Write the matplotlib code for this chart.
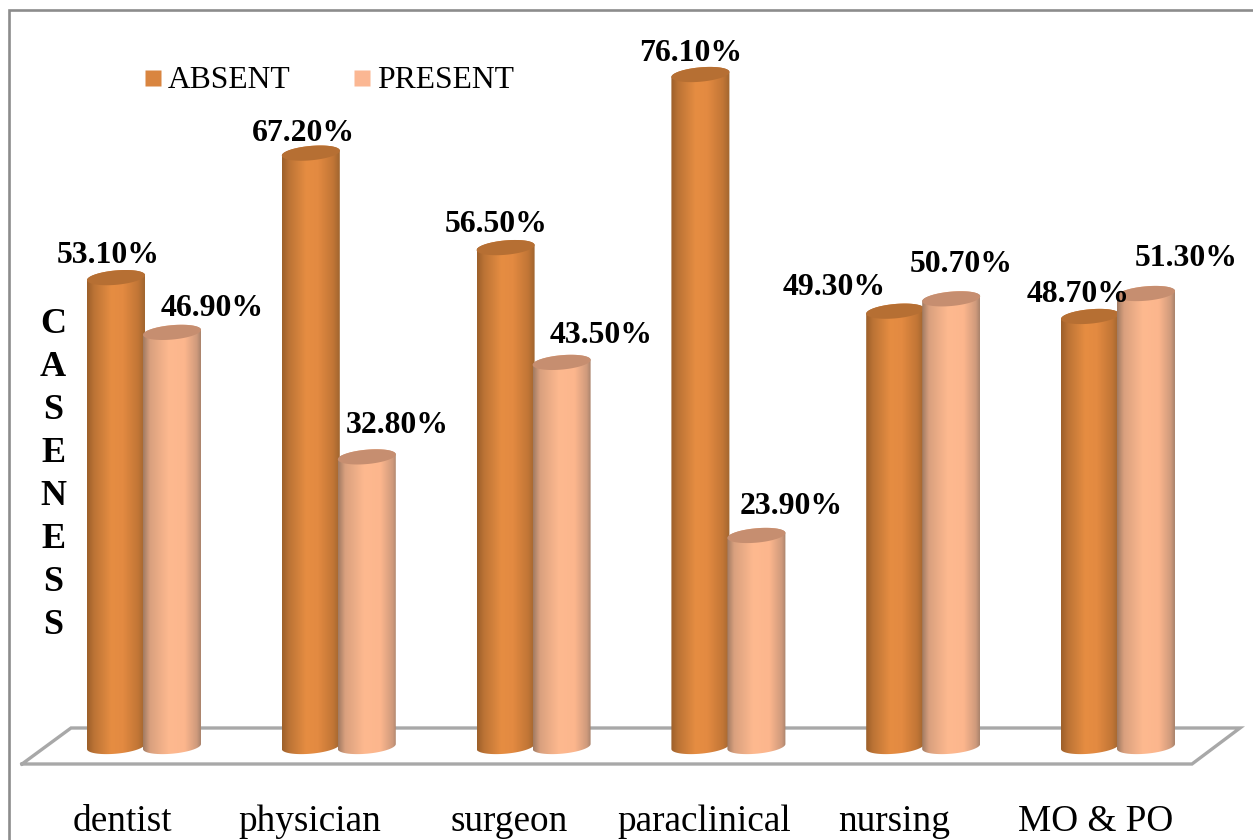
import numpy as np
import matplotlib
matplotlib.use("Agg")
import matplotlib.pyplot as plt
from matplotlib.colors import LinearSegmentedColormap
from matplotlib.patches import PathPatch, Polygon
from matplotlib.path import Path

categories = ["dentist", "physician", "surgeon", "paraclinical", "nursing", "MO & PO"]
absent = [53.1, 67.2, 56.5, 76.1, 49.3, 48.7]
present = [46.9, 32.8, 43.5, 23.9, 50.7, 51.3]
series_names = ["ABSENT", "PRESENT"]
axis_letters = list("CASENESS")

# value label offsets from the top of each cylinder, in pixels
absent_offsets = [(-8, 22), (-7, 20), (-9, 23), (-10, 21), (-61, 24), (-12, 22)]
present_offsets = [(40, 24), (30, 31), (40, 27), (35, 29), (10, 34), (40, 35)]
category_centers_px = [122, 310, 509, 704, 894, 1096]

W, H = 1253, 840
BASE_Y = 746.5
PX_PER_PCT = 8.83
GROUP_X0 = 144.0
GROUP_DX = 194.8
SERIF = "Liberation Serif"

fig = plt.figure(figsize=(W / 100, H / 100), dpi=100, facecolor="white")
ax = fig.add_axes([0, 0, 1, 1])
XLIM = (-GROUP_X0 / GROUP_DX, (W - GROUP_X0) / GROUP_DX)
YLIM = ((BASE_Y - H) / PX_PER_PCT, BASE_Y / PX_PER_PCT)
ax.set_xlim(*XLIM)
ax.set_ylim(*YLIM)
ax.axis("off")


def px(x, y):
    """Convert image-style pixel coordinates to data coordinates."""
    return (x - GROUP_X0) / GROUP_DX, (BASE_Y - y) / PX_PER_PCT


# outer frame: left and top edges stay inside the canvas, the rest run off it
frame = np.array([px(8.5, 860), px(8.5, 9.5), px(1270, 9.5)])
ax.plot(frame[:, 0], frame[:, 1], color="#8c8c8c", lw=1.9, solid_joinstyle="miter", zorder=1)

# floor of the 3-D plot area
floor = np.array([px(22, 764), px(71, 728), px(1240, 728), px(1192, 764), px(22, 764)])
ax.plot(floor[:, 0], floor[:, 1], color="#a8a8a8", lw=2.4, solid_joinstyle="miter", zorder=2)

HALF_W = 29 / GROUP_DX
RY = 7.2 / PX_PER_PCT
TILT = 2.5 / PX_PER_PCT

absent_cmap = LinearSegmentedColormap.from_list(
    "absent", [(0, "#9c5f2a"), (0.12, "#bb7335"), (0.42, "#e68d42"),
               (0.62, "#e38a41"), (0.88, "#c27636"), (1, "#a0652f")])
present_cmap = LinearSegmentedColormap.from_list(
    "present", [(0, "#a07a62"), (0.12, "#d9a07e"), (0.45, "#feb98f"),
                (0.72, "#fcb68d"), (0.93, "#cf9a7c"), (1, "#a9836c")])


def rim(xc, level, start, stop):
    """Points on a slightly tilted elliptical rim at the given height."""
    t = np.linspace(start, stop, 60)
    x = xc + HALF_W * np.cos(t)
    y = level + RY * np.sin(t) + TILT * np.cos(t)
    return np.column_stack([x, y])


def cylinder(xc, value, cmap, top_color, z):
    x0, x1 = xc - HALF_W, xc + HALF_W
    # body outline: left edge up, across the top, right edge down, along the lower rim
    lower = rim(xc, 0, 0, -np.pi)
    upper = rim(xc, value, np.pi, 0)
    verts = np.vstack([upper, lower, upper[:1]])
    codes = [Path.MOVETO] + [Path.LINETO] * (len(verts) - 2) + [Path.CLOSEPOLY]
    body = PathPatch(Path(verts, codes), facecolor="none", edgecolor="none", zorder=z)
    ax.add_patch(body)
    grad = np.linspace(0, 1, 256).reshape(1, -1)
    im = ax.imshow(grad, cmap=cmap, extent=(x0, x1, -2 * RY, value + 2 * RY),
                   aspect="auto", zorder=z, interpolation="bilinear")
    im.set_clip_path(body)
    ax.add_patch(Polygon(rim(xc, value, 0, 2 * np.pi), closed=True, facecolor=top_color,
                         edgecolor="none", zorder=z + 0.1))


OFFSET = 28 / GROUP_DX
for i, (a, p) in enumerate(zip(absent, present)):
    cylinder(i - OFFSET, a, absent_cmap, "#b66f33", 3 + i * 0.01)
    cylinder(i + OFFSET, p, present_cmap, "#c68e70", 4 + i * 0.01)

# imshow resets the view, so restore it
ax.set_xlim(*XLIM)
ax.set_ylim(*YLIM)

label_style = dict(fontfamily=SERIF, fontweight="bold", fontsize=22.9,
                   ha="center", va="center", color="black", zorder=6,
                   textcoords="offset pixels")
for i, (a, p) in enumerate(zip(absent, present)):
    ax.annotate(f"{a:.2f}%", (i - OFFSET, a), xytext=absent_offsets[i], **label_style)
    ax.annotate(f"{p:.2f}%", (i + OFFSET, p), xytext=present_offsets[i], **label_style)

# category labels
for cx, c in zip(category_centers_px, categories):
    tx, ty = px(cx, 822)
    ax.text(tx, ty, c, fontfamily=SERIF, fontsize=26.8, ha="center", va="center",
            color="black", zorder=6)

# stacked vertical axis title
for k, letter in enumerate(axis_letters):
    lx, ly = px(53, 324.5 + k * 43)
    ax.text(lx, ly, letter, fontfamily=SERIF, fontweight="bold", fontsize=26,
            ha="center", va="center", color="black", zorder=6)

# legend
for name, color, sx, tx in zip(series_names, ["#d98540", "#fbb793"], [153, 362], [168, 377]):
    lx, ly = px(sx, 78)
    ax.plot([lx], [ly], marker="s", ms=11.5, color=color, mec="none", zorder=6)
    tx_d, ty_d = px(tx, 81)
    ax.text(tx_d, ty_d, name, fontfamily=SERIF, fontsize=22.8, ha="left", va="center",
            color="black", zorder=6)

fig.savefig("out.png", dpi=100, facecolor="white")
